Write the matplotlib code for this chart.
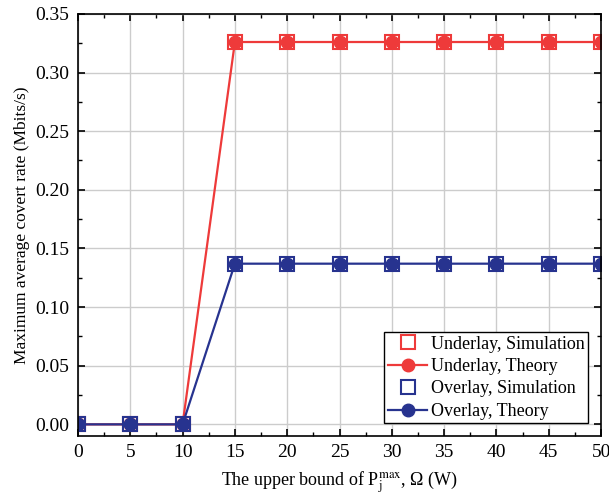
import matplotlib
matplotlib.use('Agg')
import matplotlib.pyplot as plt
from matplotlib.ticker import MultipleLocator

plt.rcParams['font.family'] = ['Liberation Serif', 'DejaVu Serif']
plt.rcParams['mathtext.fontset'] = 'stix'

# datos
omega = [0, 5, 10, 15, 20, 25, 30, 35, 40, 45, 50]
underlay = [0, 0, 0, 0.326, 0.326, 0.326, 0.326, 0.326, 0.326, 0.326, 0.326]
overlay = [0, 0, 0, 0.137, 0.137, 0.137, 0.137, 0.137, 0.137, 0.137, 0.137]

rojo = '#EE3A3A'
azul = '#27338F'

fig = plt.figure(figsize=(6.09, 4.95), dpi=100)
ax = fig.add_axes([0.128, 0.119, 0.859, 0.853])

ax.plot(omega, underlay, ls='none', marker='s', ms=10, mfc='none', mec=rojo, mew=1.5,
        label='Underlay, Simulation')
ax.plot(omega, underlay, color=rojo, lw=1.6, marker='o', ms=9, label='Underlay, Theory')
ax.plot(omega, overlay, ls='none', marker='s', ms=10, mfc='none', mec=azul, mew=1.5,
        label='Overlay, Simulation')
ax.plot(omega, overlay, color=azul, lw=1.6, marker='o', ms=9, label='Overlay, Theory')

ax.set_xlim(0, 50)
ax.set_ylim(-0.01, 0.35)
ax.xaxis.set_major_locator(MultipleLocator(5))
ax.xaxis.set_minor_locator(MultipleLocator(2.5))
ax.yaxis.set_major_locator(MultipleLocator(0.05))
ax.yaxis.set_minor_locator(MultipleLocator(0.025))
ax.yaxis.set_major_formatter(matplotlib.ticker.FormatStrFormatter('%.2f'))
ax.tick_params(which='both', direction='in', top=True, right=True, labelsize=14)
ax.tick_params(which='major', length=5, width=1.2, pad=6)
ax.tick_params(which='minor', length=3, width=1)
ax.grid(True, color='#cccccc', lw=1)
ax.set_axisbelow(True)
for s in ax.spines.values():
    s.set_linewidth(1.2)

ax.set_xlabel(r'The upper bound of P$_\mathrm{j}^\mathrm{max}$, Ω (W)', fontsize=13, labelpad=6)
ax.set_ylabel('Maximum average covert rate (Mbits/s)', fontsize=12.5, labelpad=4)

leg = ax.legend(loc='lower right', fontsize=13, fancybox=False, edgecolor='black',
                framealpha=1, borderpad=0.2, labelspacing=0.3, handlelength=2.2,
                handletextpad=0.2, borderaxespad=0.7)
leg.get_frame().set_linewidth(1)

plt.savefig('out.png')
